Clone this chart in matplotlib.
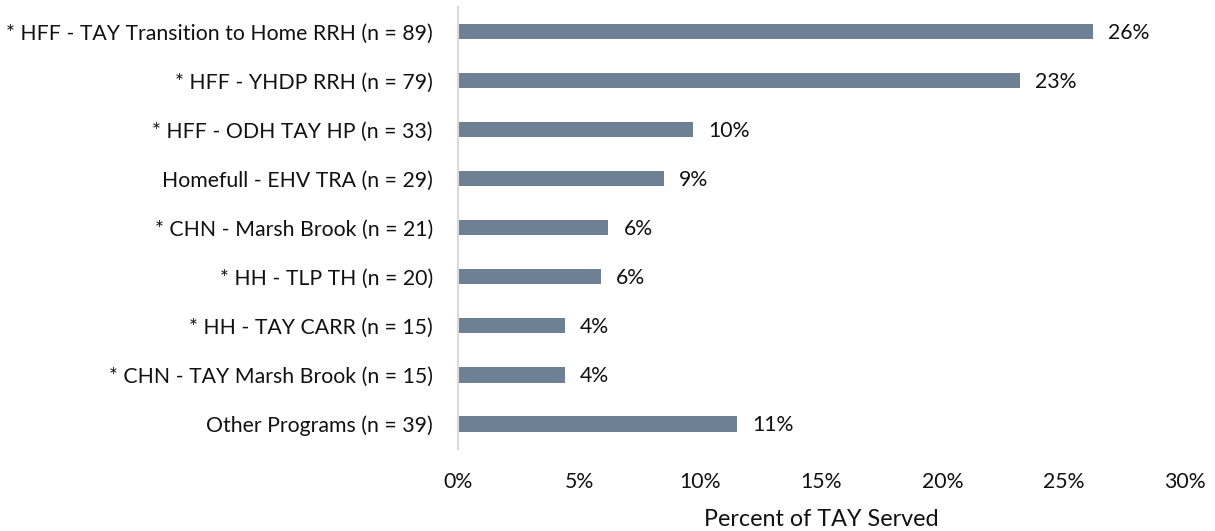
import matplotlib
matplotlib.use("Agg")
import matplotlib.pyplot as plt

categories = [
    "* HFF - TAY Transition to Home RRH (n = 89)",
    "* HFF - YHDP RRH (n = 79)",
    "* HFF - ODH TAY HP (n = 33)",
    "Homefull - EHV TRA (n = 29)",
    "* CHN - Marsh Brook (n = 21)",
    "* HH - TLP TH (n = 20)",
    "* HH - TAY CARR (n = 15)",
    "* CHN - TAY Marsh Brook (n = 15)",
    "Other Programs (n = 39)",
]
values = [26.2, 23.2, 9.7, 8.5, 6.2, 5.9, 4.4, 4.4, 11.5]
value_labels = ["26%", "23%", "10%", "9%", "6%", "6%", "4%", "4%", "11%"]
xticks = [0, 5, 10, 15, 20, 25, 30]
xtick_labels = ["0%", "5%", "10%", "15%", "20%", "25%", "30%"]
xlabel = "Percent of TAY Served"

plt.rcParams['font.family'] = ['Lato', 'DejaVu Sans']
fig = plt.figure(figsize=(12.15, 5.31), dpi=100)
ax = fig.add_axes([458/1215, 1-448.5/531, (1185-458)/1215, (448.5-7)/531])

ypos = list(range(len(categories)))
ax.barh(ypos, values, height=0.31, color='#6D8094')
ax.set_ylim(len(categories)-0.5, -0.5)
ax.set_xlim(0, 30)
ax.set_yticks(ypos)
ax.set_yticklabels(categories, fontsize=15.3, color='#111111')
ax.set_xticks(xticks)
ax.set_xticklabels(xtick_labels, fontsize=15.3, color='#111111')
ax.tick_params(axis='y', length=0, pad=18)
ax.tick_params(axis='x', length=0, pad=17)
for s in ['top', 'right', 'bottom']:
    ax.spines[s].set_visible(False)
ax.spines['left'].set_color('#D9D9D9')
ax.spines['left'].set_linewidth(1.5)
ax.set_xlabel(xlabel, fontsize=16.8, labelpad=12, color='#111111')

for y, v, lab in zip(ypos, values, value_labels):
    ax.annotate(lab, xy=(v, y), xytext=(11, -1), textcoords='offset points',
                va='center', ha='left', fontsize=15.3, color='#111111')

fig.savefig("out.png", dpi=100)
